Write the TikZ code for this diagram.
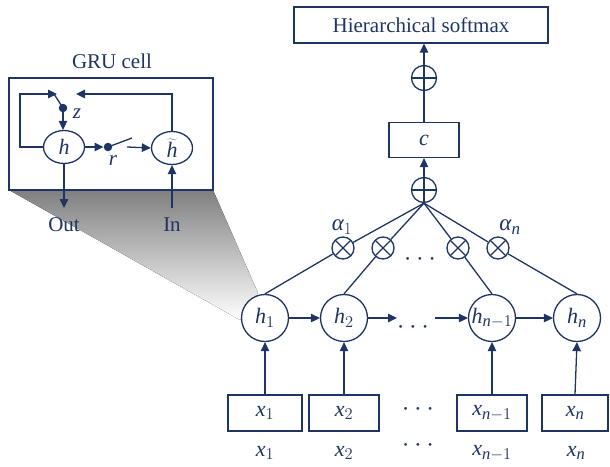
\RequirePackage{fix-cm}
\documentclass[tikz,border=0pt]{standalone}
\usepackage{fontspec}
\setmainfont{Liberation Serif}
\usetikzlibrary{arrows.meta,shapes.geometric}
\DeclareMathSizes{21}{21}{15.5}{12}
\DeclareMathSizes{22}{22}{16.5}{12.5}
\DeclareMathSizes{23}{23}{17}{13}
\definecolor{navy}{RGB}{30,52,98}
\definecolor{shade}{RGB}{204,205,207}
\newcommand{\ldotsrow}{\textperiodcentered\hspace{0.2em}\textperiodcentered\hspace{0.2em}\textperiodcentered}
\tikzset{
  wire/.style={draw=navy, line width=1.3pt},
  arr/.style={wire, -{Triangle[length=9pt,width=8.5pt]}},
  txt/.style={text=navy, font=\fontsize{21}{25}\selectfont, inner sep=0pt},
  dotsrow/.style={text=navy, font=\fontsize{23}{27}\selectfont, inner sep=0pt},
  hid/.style={circle, draw=navy, fill=white, line width=1.3pt, minimum size=47pt, inner sep=0pt, text=navy, font=\fontsize{22}{26}\selectfont},
  cellstate/.style={ellipse, draw=navy, fill=white, line width=1.3pt, minimum width=41pt, minimum height=33pt, inner sep=0pt, text=navy, font=\fontsize{22}{26}\selectfont},
  inbox/.style={rectangle, draw=navy, fill=white, line width=1.3pt, minimum width=70pt, minimum height=36pt, inner sep=0pt, text=navy, font=\fontsize{22}{26}\selectfont},
  oplus/.style={circle, draw=navy, line width=1.3pt, minimum size=25pt, inner sep=0pt,
    path picture={\draw[navy, line width=1.3pt] (path picture bounding box.north) -- (path picture bounding box.south)
      (path picture bounding box.west) -- (path picture bounding box.east);}},
  otimes/.style={circle, draw=navy, line width=1.3pt, minimum size=22pt, inner sep=0pt,
    path picture={\draw[navy, line width=1.3pt] (path picture bounding box.north west) -- (path picture bounding box.south east)
      (path picture bounding box.south west) -- (path picture bounding box.north east);}},
  gatedot/.style={circle, fill=navy, minimum size=8.5pt, inner sep=0pt},
}
\begin{document}
\begin{tikzpicture}[x=1pt, y=-1pt]
\useasboundingbox (0,0) rectangle (610,466);

% zoom wedge linking the cell to h_1
\fill[shade] (9,190) -- (213,190) -- (258,293) -- (240,320) -- cycle;

% ---------- GRU cell ----------
\node[txt] (title) at (112,61) {GRU cell};
\draw[wire] (9,78) rectangle (213,190);
\node[cellstate] (gh) at (64,147) {$\mathit{h}$};
\node[cellstate] (gt) at (172,148) {$\widetilde{\mathit{h}}$};
\node[gatedot] (zdot) at (63,108) {};
\node[gatedot] (rdot) at (108,147) {};
\coordinate (loopL) at (20,147);
\coordinate (loopT) at (20,94);
\coordinate (zin) at (57,94);
\coordinate (zsw) at (54,94);
\coordinate (topR) at (172,94);
\coordinate (topL) at (76,94);
\coordinate (rsw) at (132,138);
\coordinate (rout) at (127,147);
\coordinate (outEnd) at (64,208);
\coordinate (inStart) at (172,208);
\draw[arr] (gh.west) -- (loopL) -- (loopT) -- (zin);
\draw[wire] (zdot.center) -- (zsw);
\draw[arr] (zdot) -- (zdot |- gh.north);
\draw[arr] (gt.north) -- (topR) -- (topL);
\draw[arr] (gh.east) -- (rdot.west);
\draw[wire] (rdot.center) -- (rsw);
\draw[arr] (rout) -- (gt.west);
\draw[arr] (gh.south) -- (outEnd);
\draw[arr] (inStart) -- (gt.south);
\node[txt] (zlab) at (77,114) {$\mathit{z}$};
\node[txt] (rlab) at (113,161) {$\mathit{r}$};
\node[txt] (outlab) at (64,225) {Out};
\node[txt] (inlab) at (172,225) {In};

% ---------- output stack ----------
\node[rectangle, draw=navy, line width=1.3pt, minimum width=254pt, minimum height=36pt, inner sep=0pt, txt] (soft) at (421,25) {Hierarchical softmax};
\node[oplus] (sumtop) at (424,78) {};
\node[inbox, minimum height=35pt] (ctx) at (424,140) {$\mathit{c}$};
\node[oplus] (sum) at (424,190) {};
\draw[arr] (sumtop.north) -- (sumtop.north |- soft.south);
\draw[wire] (ctx.north) -- (sumtop.south);
\draw[arr] (sum.north) -- (ctx.south);

% ---------- attention weights ----------
\node[otimes] (m1) at (343,248) {};
\node[otimes] (m2) at (383,248) {};
\node[otimes] (m3) at (458,248) {};
\node[otimes] (m4) at (498,248) {};
\node[txt, font=\fontsize{23}{27}\selectfont] (a1) at (342,227) {$\mbox{\itshape α}_1$};
\node[txt, font=\fontsize{23}{27}\selectfont] (an) at (510,227) {$\mbox{\itshape α}_{\mathit{n}}$};
\node[dotsrow] (mdots) at (420,262) {\ldotsrow};

% ---------- encoder ----------
\node[hid] (h1) at (265,318) {$\mathit{h}_1$};
\node[hid] (h2) at (344,318) {$\mathit{h}_2$};
\node[hid] (h3) at (492,318) {$\mathit{h}_{\mathit{n}-1}$};
\node[hid] (h4) at (577,318) {$\mathit{h}_{\mathit{n}}$};
\coordinate (chainA) at (397,318);
\coordinate (chainB) at (435,318);
\node[dotsrow] (hdots) at (413,330) {\ldotsrow};
\draw[arr] (h1) -- (h2);
\draw[arr] (h2) -- (chainA);
\draw[arr] (chainB) -- (h3);
\draw[arr] (h3) -- (h4);

\foreach \m/\h in {m1/h1, m2/h2, m3/h3, m4/h4}{
  \draw[wire] (sum.south) -- (\m);
  \draw[wire] (\m) -- (\h.north);
}

% ---------- inputs ----------
\node[inbox, minimum width=74pt] (x1) at (265,413) {$\mathit{x}_1$};
\node[inbox] (x2) at (344,413) {$\mathit{x}_2$};
\node[inbox] (x3) at (492,413) {$\mathit{x}_{\mathit{n}-1}$};
\node[inbox, minimum width=66pt] (x4) at (575,413) {$\mathit{x}_{\mathit{n}}$};
\node[dotsrow] (xdots) at (418,412) {\ldotsrow};
\foreach \x/\h in {x1/h1, x2/h2, x3/h3, x4/h4}{
  \draw[arr] (\x.north) -- (\h.south);
}
\node[txt, font=\fontsize{22}{26}\selectfont] (l1) at (265,453) {$\mathit{x}_1$};
\node[txt, font=\fontsize{22}{26}\selectfont] (l2) at (344,453) {$\mathit{x}_2$};
\node[txt, font=\fontsize{22}{26}\selectfont] (l3) at (492,453) {$\mathit{x}_{\mathit{n}-1}$};
\node[txt, font=\fontsize{22}{26}\selectfont] (l4) at (576,453) {$\mathit{x}_{\mathit{n}}$};
\node[dotsrow] (ldots) at (418,448) {\ldotsrow};
\end{tikzpicture}
\end{document}
